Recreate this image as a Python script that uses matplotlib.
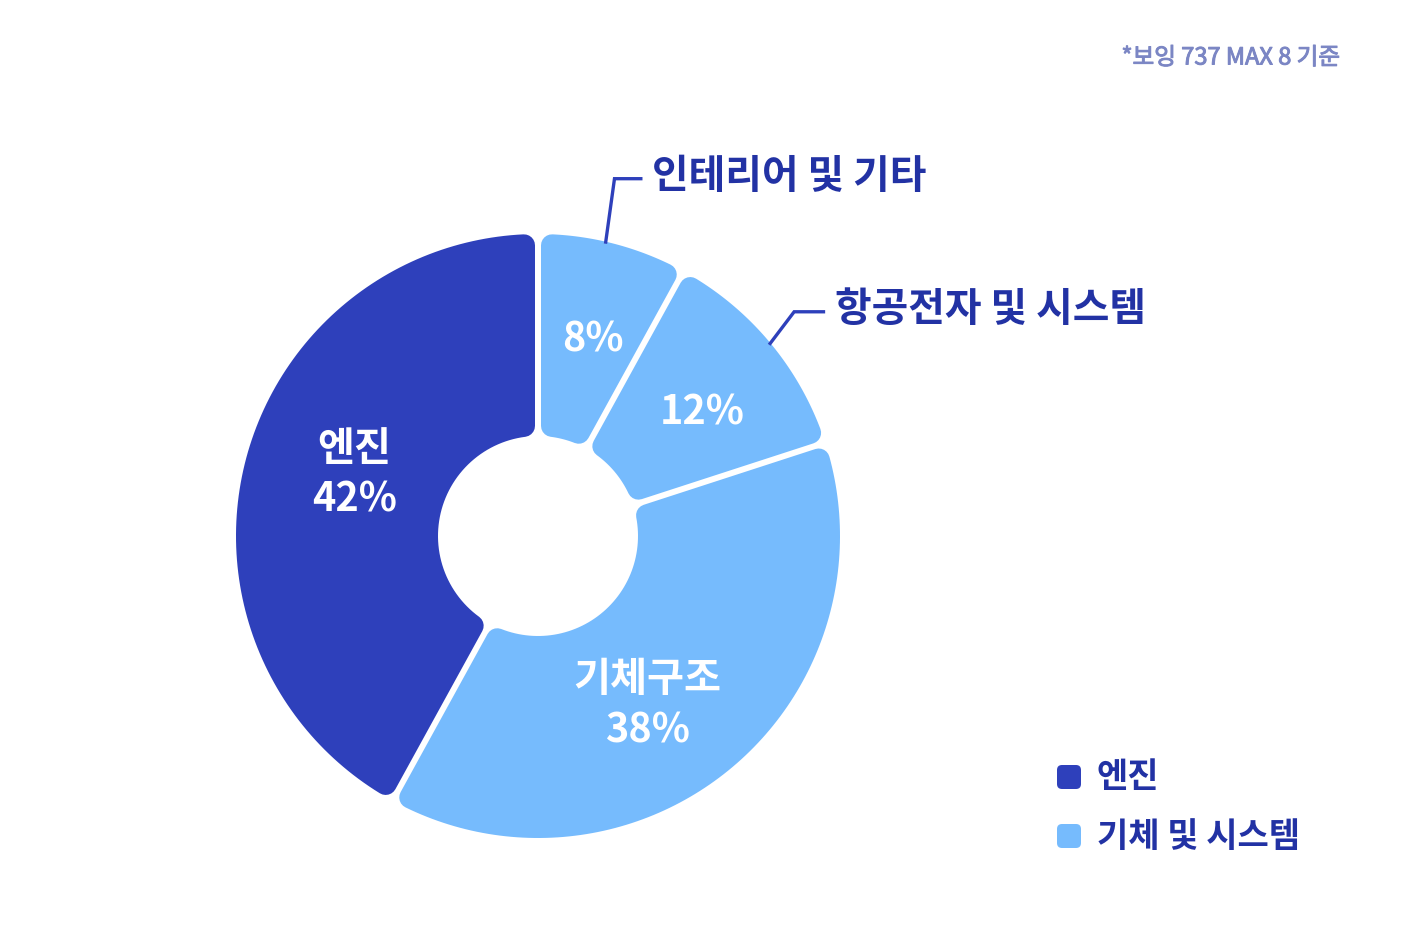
"""Boeing 737 MAX 8 cost breakdown donut, rounded segments with leader labels."""

import numpy as np
import matplotlib

matplotlib.use("Agg")
import matplotlib.pyplot as plt
import matplotlib.patheffects as pe
from matplotlib.patches import Polygon, FancyBboxPatch

plt.rcParams["font.family"] = ["Noto Sans CJK KR", "DejaVu Sans"]

SEGMENTS = ["인테리어 및 기타", "항공전자 및 시스템", "기체구조", "엔진"]
SHARES = [8, 12, 38, 42]
GROUP = [1, 1, 1, 0]  # 0 = engine, 1 = airframe & systems
NAME_INSIDE = [False, False, True, True]
LEGEND_LABELS = ["엔진", "기체 및 시스템"]
NOTE = "*보잉 737 MAX 8 기준"

COLORS = ["#2E40BB", "#76BBFD"]
TEXT_COLOR = "#2232A4"
NOTE_COLOR = "#7B86C4"

W, H = 1409, 940
CX, CY = 538, 536
R_OUT, R_IN = 302, 100
GAP, ROUND = 6, 11
PX2PT = 72 / 100

# label placement tweaks per segment (radius in px, angular nudge in degrees)
LABEL_RADIUS = [204, 205, 200, 194]
LABEL_NUDGE = [-1.3, -2.7, -6.5, -4.5]
# leaders: start angle nudge (deg), elbow dx, dy (px, image y down), horizontal run
LEADER = {0: (1.4, 9, -65, 28), 1: (0.0, 25, -33, 31)}


def pt(r, a):
    return CX + r * np.cos(a), CY - r * np.sin(a)


def rounded_sector(ax, t1, t2, color):
    d = GAP / 2 + ROUND
    ro, ri = R_OUT - ROUND, R_IN + ROUND
    outer = np.linspace(t2 - np.arcsin(d / ro), t1 + np.arcsin(d / ro), 120)
    inner = np.linspace(t1 + np.arcsin(d / ri), t2 - np.arcsin(d / ri), 60)
    xs = np.concatenate([CX + ro * np.cos(outer), CX + ri * np.cos(inner)])
    ys = np.concatenate([CY - ro * np.sin(outer), CY - ri * np.sin(inner)])
    ax.add_patch(Polygon(np.column_stack([xs, ys]), closed=True, fc=color, ec=color,
                         lw=2 * ROUND * PX2PT, joinstyle="round"))


fig = plt.figure(figsize=(W / 100, H / 100), dpi=100)
ax = fig.add_axes([0, 0, 1, 1])
ax.set_xlim(0, W)
ax.set_ylim(H, 0)
ax.axis("off")

start = 90.0
for i, (name, share) in enumerate(zip(SEGMENTS, SHARES)):
    span = share * 3.6
    t2 = np.radians(start)
    t1 = np.radians(start - span)
    rounded_sector(ax, t1, t2, COLORS[GROUP[i]])

    mid = np.radians(start - span / 2 + LABEL_NUDGE[i])
    lx, ly = pt(LABEL_RADIUS[i], mid)
    if NAME_INSIDE[i]:
        ax.text(lx, ly - 24, name, color="white", fontsize=29, weight="bold",
                ha="center", va="center")
        ax.text(lx, ly + 27, f"{share}%", color="white", fontsize=28.5, weight="bold",
                ha="center", va="center")
    else:
        ax.text(lx, ly, f"{share}%", color="white", fontsize=28.5, weight="bold",
                ha="center", va="center")
        nudge, dx, dy, run = LEADER[i]
        sx, sy = pt(R_OUT - 2, np.radians(start - span / 2 + nudge))
        ex, ey = sx + dx, sy + dy
        ax.plot([sx, ex, ex + run], [sy, ey, ey], color=COLORS[0], lw=2.4,
                solid_joinstyle="miter", solid_capstyle="butt")
        ax.text(ex + run + 10, ey - 2, name, color=TEXT_COLOR, fontsize=28.7,
                weight="bold", ha="left", va="center")
    start -= span

for j, label in enumerate(LEGEND_LABELS):
    y = 777 + j * 59
    ax.add_patch(FancyBboxPatch((1057, y - 12), 24, 24,
                                boxstyle="round,pad=0,rounding_size=5",
                                fc=COLORS[j], ec="none"))
    ax.text(1097, y, label, color=TEXT_COLOR, fontsize=24.5, weight="bold",
            ha="left", va="center")

ax.text(1340, 58, NOTE, color=NOTE_COLOR, fontsize=17, ha="right", va="center",
        path_effects=[pe.withStroke(linewidth=0.7, foreground=NOTE_COLOR)])

fig.savefig("out.png", dpi=100, facecolor="white")
